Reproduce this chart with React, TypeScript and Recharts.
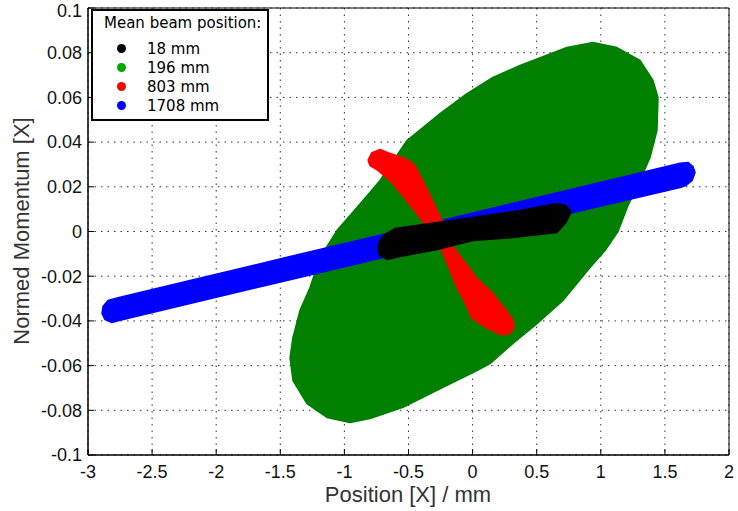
import React from "react";
import { ScatterChart, Scatter, XAxis, YAxis, CartesianGrid, ReferenceArea } from "recharts";

type Pt = { x: number; y: number };

const xTicks = [-3, -2.5, -2, -1.5, -1, -0.5, 0, 0.5, 1, 1.5, 2];
const yTicks = [-0.1, -0.08, -0.06, -0.04, -0.02, 0, 0.02, 0.04, 0.06, 0.08, 0.1];

// outlines of the four phase-space clouds
const beam196: Pt[] = [
  { x: 0.939, y: 0.0846 }, { x: 1.126, y: 0.0823 }, { x: 1.306, y: 0.0765 }, { x: 1.407, y: 0.0676 },
  { x: 1.446, y: 0.06 }, { x: 1.438, y: 0.0452 }, { x: 1.384, y: 0.0331 }, { x: 1.306, y: 0.0228 },
  { x: 1.212, y: 0.0116 }, { x: 1.134, y: 0 }, { x: 1.033, y: -0.0085 }, { x: 0.916, y: -0.0161 },
  { x: 0.705, y: -0.0309 }, { x: 0.502, y: -0.0412 }, { x: 0.315, y: -0.0501 }, { x: 0.136, y: -0.0591 },
  { x: 0.034, y: -0.0622 }, { x: -0.278, y: -0.0711 }, { x: -0.543, y: -0.0787 }, { x: -0.8, y: -0.0837 },
  { x: -0.956, y: -0.0855 }, { x: -1.136, y: -0.0832 }, { x: -1.292, y: -0.077 }, { x: -1.401, y: -0.0667 },
  { x: -1.424, y: -0.0564 }, { x: -1.401, y: -0.0474 }, { x: -1.346, y: -0.0353 }, { x: -1.268, y: -0.0251 },
  { x: -1.19, y: -0.0116 }, { x: -1.058, y: 0.0004 }, { x: -0.855, y: 0.0139 }, { x: -0.722, y: 0.0228 },
  { x: -0.512, y: 0.0407 }, { x: -0.254, y: 0.0528 }, { x: -0.044, y: 0.0617 }, { x: 0.159, y: 0.0689 },
  { x: 0.37, y: 0.0743 }, { x: 0.736, y: 0.0823 },
];

const beam1708: Pt[] = [
  { x: -2.766, y: -0.0296 }, { x: -2.204, y: -0.0219 }, { x: -1.424, y: -0.0112 }, { x: -0.566, y: 0.0005 },
  { x: 0.214, y: 0.0112 }, { x: 0.994, y: 0.0219 }, { x: 1.618, y: 0.0305 }, { x: 1.68, y: 0.0309 },
  { x: 1.719, y: 0.0291 }, { x: 1.735, y: 0.0264 }, { x: 1.712, y: 0.0228 }, { x: 1.665, y: 0.0206 },
  { x: 1.618, y: 0.0197 }, { x: 0.994, y: 0.0113 }, { x: 0.214, y: 0.0007 }, { x: -0.566, y: -0.0099 },
  { x: -1.424, y: -0.0216 }, { x: -2.204, y: -0.0322 }, { x: -2.766, y: -0.0399 }, { x: -2.813, y: -0.0407 },
  { x: -2.867, y: -0.0394 }, { x: -2.891, y: -0.0367 }, { x: -2.883, y: -0.0336 }, { x: -2.844, y: -0.0309 },
];

const beam803: Pt[] = [
  { x: -0.816, y: 0.0318 }, { x: -0.785, y: 0.0353 }, { x: -0.722, y: 0.0367 }, { x: -0.644, y: 0.0349 },
  { x: -0.527, y: 0.0327 }, { x: -0.457, y: 0.03 }, { x: -0.41, y: 0.0251 }, { x: -0.332, y: 0.0161 },
  { x: -0.239, y: 0.0049 }, { x: -0.161, y: -0.0063 }, { x: -0.059, y: -0.0139 }, { x: 0.034, y: -0.021 },
  { x: 0.151, y: -0.0273 }, { x: 0.253, y: -0.0345 }, { x: 0.315, y: -0.0398 }, { x: 0.323, y: -0.0434 },
  { x: 0.276, y: -0.0461 }, { x: 0.214, y: -0.0461 }, { x: 0.12, y: -0.0434 }, { x: -0.005, y: -0.0389 },
  { x: -0.067, y: -0.0309 }, { x: -0.122, y: -0.0251 }, { x: -0.192, y: -0.0152 }, { x: -0.254, y: -0.0063 },
  { x: -0.332, y: 0.0004 }, { x: -0.426, y: 0.0072 }, { x: -0.527, y: 0.0148 }, { x: -0.629, y: 0.0219 },
  { x: -0.738, y: 0.0273 }, { x: -0.8, y: 0.0295 },
];

const beam18: Pt[] = [
  { x: -0.683, y: -0.0013 }, { x: -0.605, y: 0.0013 }, { x: -0.332, y: 0.0036 }, { x: 0.003, y: 0.0063 },
  { x: 0.37, y: 0.0094 }, { x: 0.658, y: 0.0125 }, { x: 0.729, y: 0.0116 }, { x: 0.768, y: 0.0089 },
  { x: 0.729, y: 0.004 }, { x: 0.658, y: -0.0004 }, { x: 0.315, y: -0.0027 }, { x: 0.003, y: -0.004 },
  { x: -0.278, y: -0.0081 }, { x: -0.566, y: -0.0112 }, { x: -0.668, y: -0.0125 }, { x: -0.73, y: -0.0103 },
  { x: -0.738, y: -0.0067 }, { x: -0.715, y: -0.0031 },
];

const legendItems = [
  { label: "18 mm", color: "#000000" },
  { label: "196 mm", color: "#00aa00" },
  { label: "803 mm", color: "#ff0000" },
  { label: "1708 mm", color: "#0000ff" },
];

const closed = (pts: Pt[]) => [...pts, pts[0]];
const noDot = () => <g />;

const tickFont = { fontFamily: "Liberation Sans, Arial, sans-serif", fontSize: 18, fill: "#111" };

function Cloud({ data, color }: { data: Pt[]; color: string }) {
  return (
    <Scatter
      data={closed(data)}
      dataKey="y"
      shape={noDot}
      line={{ fill: color, stroke: color, strokeWidth: 1.5, strokeLinejoin: "round" }}
      lineType="joint"
      isAnimationActive={false}
    />
  );
}

export default function App() {
  return (
    <div style={{ position: "absolute", left: 0, top: 0, width: 738, height: 511, background: "#fff" }}>
      <ScatterChart width={738} height={511} margin={{ top: 8, right: 9, left: 0, bottom: 0 }}>
        <CartesianGrid
          stroke="#333"
          strokeDasharray="1.5 5"
          horizontalPoints={undefined}
          verticalValues={xTicks}
          horizontalValues={yTicks}
        />
        <XAxis
          dataKey="x"
          type="number"
          domain={[-3, 2]}
          ticks={xTicks}
          allowDataOverflow
          height={56}
          tickSize={-6}
          tickMargin={16}
          stroke="#000"
          tick={tickFont}
        />
        <XAxis
          xAxisId="top"
          orientation="top"
          type="number"
          domain={[-3, 2]}
          ticks={xTicks}
          height={0}
          tickSize={-6}
          tick={false}
          stroke="#000"
        />
        <YAxis
          dataKey="y"
          type="number"
          domain={[-0.1, 0.1]}
          ticks={yTicks}
          allowDataOverflow
          width={88}
          tickSize={-6}
          tickMargin={12}
          stroke="#000"
          tick={tickFont}
        />
        <YAxis
          yAxisId="right"
          orientation="right"
          type="number"
          domain={[-0.1, 0.1]}
          ticks={yTicks}
          width={0}
          tickSize={-6}
          tick={false}
          stroke="#000"
        />
        {Cloud({ data: beam196, color: "#007f00" })}
        {Cloud({ data: beam1708, color: "#0000ff" })}
        {Cloud({ data: beam803, color: "#ff0000" })}
        {Cloud({ data: beam18, color: "#000000" })}
        <ReferenceArea x1={-3} x2={2} y1={-0.1} y2={0.1} fill="none" stroke="#000" strokeWidth={1} ifOverflow="visible" />
      </ScatterChart>

      <div
        style={{
          position: "absolute",
          left: 408,
          top: 482,
          transform: "translateX(-50%)",
          fontFamily: "Liberation Sans, Arial, sans-serif",
          fontSize: 22,
          color: "#333",
          whiteSpace: "nowrap",
        }}
      >
        Position [X] / mm
      </div>
      <div
        style={{
          position: "absolute",
          left: 22,
          top: 231,
          transform: "translate(-50%, -50%) rotate(-90deg)",
          fontFamily: "Liberation Sans, Arial, sans-serif",
          fontSize: 22,
          color: "#333",
          whiteSpace: "nowrap",
        }}
      >
        Normed Momentum [X]
      </div>

      <div
        style={{
          position: "absolute",
          left: 91,
          top: 9,
          width: 174,
          height: 108,
          border: "2px solid #000",
          background: "#fff",
          fontFamily: "DejaVu Sans, sans-serif",
          fontSize: 15,
          color: "#000",
          boxSizing: "content-box",
        }}
      >
        <div style={{ position: "absolute", left: 11, top: 3 }}>Mean beam position:</div>
        {legendItems.map((it, i) => (
          <div key={it.label} style={{ position: "absolute", left: 0, top: 28 + i * 19, height: 19, display: "flex", alignItems: "center" }}>
            <span style={{ display: "inline-block", width: 9, height: 9, borderRadius: "50%", background: it.color, marginLeft: 24 }} />
            <span style={{ marginLeft: 21 }}>{it.label}</span>
          </div>
        ))}
      </div>
    </div>
  );
}
